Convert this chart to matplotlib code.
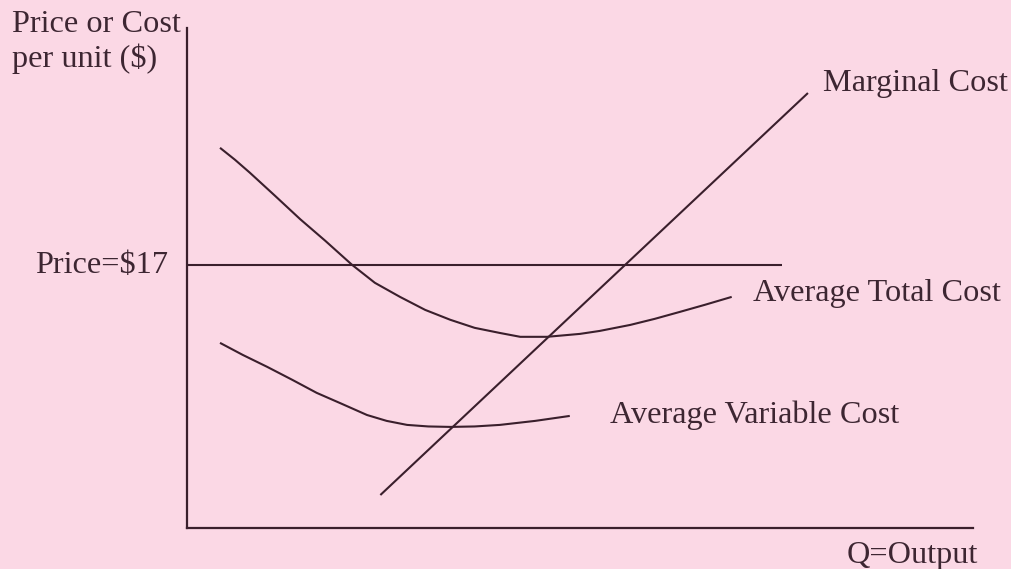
import matplotlib
matplotlib.use("Agg")
import matplotlib.pyplot as plt

# Output quantity (Q) and cost per unit ($)
atc_q = [4.2, 6.1, 8.0, 11.2, 14.4, 17.6, 21.0, 23.9, 27.1, 30.3, 33.5, 36.6,
         39.8, 42.4, 45.8, 50.0, 52.5, 56.4, 59.5, 62.7, 65.9, 69.3]
atc_cost = [24.56, 23.79, 22.95, 21.46, 19.95, 18.55, 17.0, 15.84, 14.93, 14.09,
            13.45, 12.93, 12.60, 12.35, 12.35, 12.54, 12.73, 13.12, 13.51, 13.96,
            14.42, 14.93]

avc_q = [4.2, 7.1, 10.2, 13.4, 16.5, 19.7, 22.9, 25.4, 28.0, 30.7, 33.5, 36.6,
         39.8, 44.3, 48.7]
avc_cost = [11.96, 11.18, 10.41, 9.57, 8.73, 8.02, 7.30, 6.92, 6.66, 6.56, 6.53,
            6.56, 6.66, 6.92, 7.24]

mc_q = [24.6, 79.0]
mc_cost = [2.13, 28.1]

price = 17
price_q = [0, 75.7]

labels = {
    "mc": "Marginal Cost",
    "atc": "Average Total Cost",
    "avc": "Average Variable Cost",
    "price": "Price=$17",
    "x": "Q=Output",
    "y1": "Price or Cost",
    "y2": "per unit ($)",
}

W, H = 1012, 569
BG = "#fbd8e5"
INK = "#3a1f2c"
TXT = "#3d2632"
FONT = "Liberation Serif"
FS = 23.2

fig = plt.figure(figsize=(W / 100, H / 100), dpi=100, facecolor=BG)
ax = fig.add_axes([187 / W, (H - 528) / H, (973 - 187) / W, (528 - 28) / H])
ax.set_facecolor(BG)
ax.set_xlim(0, 100)
ax.set_ylim(0, 32.3)
for side in ("top", "right"):
    ax.spines[side].set_visible(False)
for side in ("left", "bottom"):
    ax.spines[side].set_color(INK)
    ax.spines[side].set_linewidth(1.6)
ax.set_xticks([])
ax.set_yticks([])

lw = 1.5
ax.plot(atc_q, atc_cost, color=INK, lw=lw, solid_joinstyle="round", solid_capstyle="butt")
ax.plot(avc_q, avc_cost, color=INK, lw=lw, solid_joinstyle="round", solid_capstyle="butt")
ax.plot(mc_q, mc_cost, color=INK, lw=lw, solid_capstyle="butt")
ax.plot(price_q, [price, price], color=INK, lw=lw, solid_capstyle="butt")


def label(text, px, py, ha="left"):
    fig.text(px / W, 1 - py / H, text, ha=ha, va="baseline",
             fontfamily=FONT, fontsize=FS, color=TXT)


label(labels["y1"], 12, 32)
label(labels["y2"], 12, 67)
label(labels["price"], 35, 273)
label(labels["mc"], 823, 91)
label(labels["atc"], 753, 301)
label(labels["avc"], 610, 423)
label(labels["x"], 847, 563)

fig.savefig("out.png", dpi=100, facecolor=BG)
